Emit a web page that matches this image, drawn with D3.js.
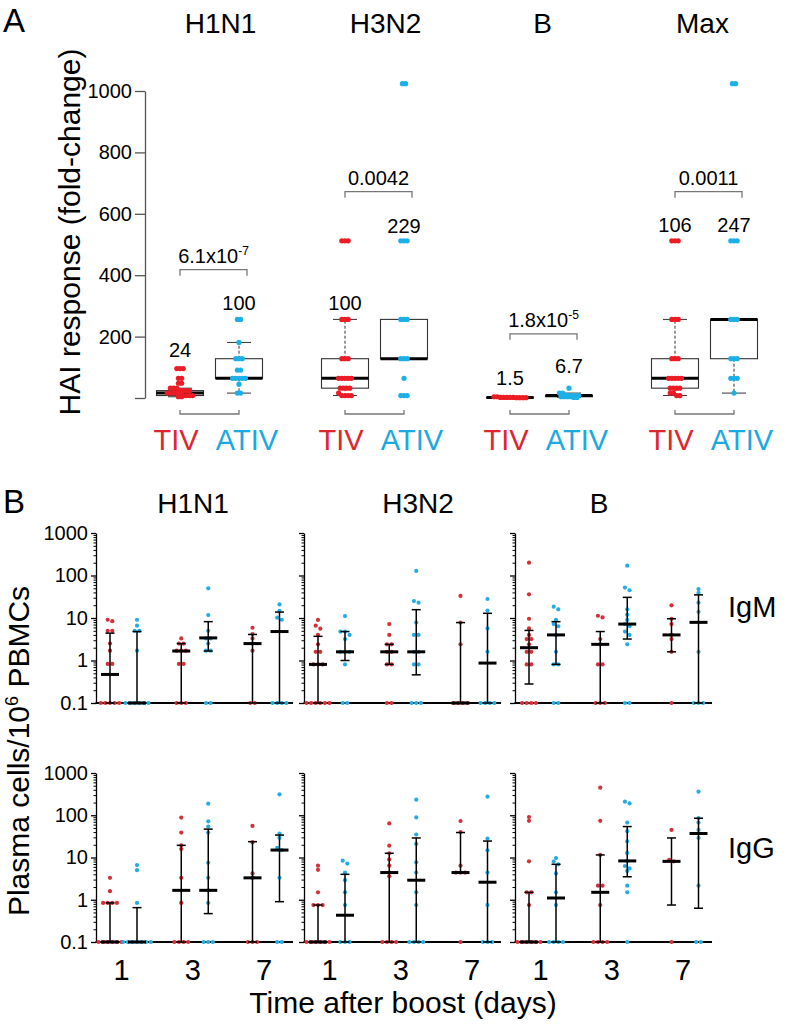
<!DOCTYPE html>
<html><head><meta charset="utf-8">
<script src="https://cdn.jsdelivr.net/npm/d3@7"></script>
<style>body{margin:0;background:#fff} svg text{font-family:"Liberation Sans",Arial,Helvetica,sans-serif;fill:#000}</style>
</head><body><svg id="c" width="789" height="1026"></svg>
<script>
// ================= DATA: Panel A (HAI fold-change) =================
const strainsA = ["H1N1","H3N2","B","Max"];
const vaccines = ["TIV","ATIV"];
const hai_H1N1_TIV  = [96,96,96,64,64,48,48,32,32,32,24,24,24,24,16,16,16,16,16,8,8,8,8,4,4];
const hai_H1N1_ATIV = [256,256,181,128,128,128,91,91,64,64,64,64,64,45,16,16];
const hai_H3N2_TIV  = [512,512,512,256,256,256,128,128,128,64,64,64,64,64,32,32,32,32,16,8,8,8,8];
const hai_H3N2_ATIV = [1024,1024,512,512,512,256,256,256,128,128,128,64,8,8,8];
const hai_B_TIV     = [4,4,2,2,2,2,2,1,1,1,1];
const hai_B_ATIV    = [32,16,16,8,8,8,8,8,4,4,4,4,2,2];
const hai_Max_TIV   = [512,512,512,256,256,256,128,128,128,64,64,64,64,64,32,32,32,32,16,16,8,8];
const hai_Max_ATIV  = [1024,1024,512,512,512,256,256,256,128,128,128,64,64,64,16];
// box statistics (order: H1N1 TIV, H1N1 ATIV, H3N2 TIV, H3N2 ATIV, B TIV, B ATIV, Max TIV, Max ATIV)
const boxQ1   = [8, 64, 32, 128, 1, 4, 32, 128];
const boxMed  = [16, 64, 64, 128, 2, 8, 64, 256];
const boxQ3   = [24, 128, 128, 256, 2, 8, 128, 256];
const whiskLo = [4, 16, 8, 128, 1, 2, 8, 16];
const whiskHi = [32, 181, 256, 256, 4, 16, 256, 256];
const gmLabels  = ["24","100","100","229","1.5","6.7","106","247"];
const gmLabelAt = [134, 287, 287, 538, 42, 82, 541, 541];       // baseline, in fold-change units
const pMain  = ["6.1x10","0.0042","1.8x10","0.0011"];
const pExp   = ["-7","","-5",""];
const pBracketAt = [418, 672, 209, 672];                          // in fold-change units
const yTicksA = [0,200,400,600,800,1000];

// ================= DATA: Panel B (plasma cells / 10^6 PBMCs) =================
const strainsB = ["H1N1","H3N2","B"];
const days = [1,3,7];
const isotypes = ["IgM","IgG"];
const yTicksB = [0.1,1,10,100,1000];
// values per day [day1, day3, day7]; stats per day [median, lower, upper]
const IgM_H1N1_TIV  = [[9.1,8.4,5,5,2.5,1.7,0.83,0.83,0.1,0.1,0.1,0.1,0.1],[3.3,2.5,2.5,1.7,1.7,1.7,0.83,0.83,0.1,0.1,0.1],[5.9,4.2,3.3,2.5,1.7,0.1,0.1]];
const IgM_H1N1_ATIV = [[9.1,6.6,5,5,1.7,0.1,0.1,0.1,0.1,0.1,0.1],[50,11.7,5,3.3,3.3,2.5,1.7,1.7,0.1,0.1],[20.9,14.8,10.2,9.1,0.1,0.1,0.1,0.1]];
const IgM_H1N1_TIV_stats  = [[0.47,0.1,4.4],[1.67,0.1,2.5],[2.5,0.1,4.1]];
const IgM_H1N1_ATIV_stats = [[0.1,0.1,4.8],[3.4,1.67,8.2],[4.8,0.1,13.8]];
const IgM_H3N2_TIV  = [[9,6.6,5.6,4,2.4,1.6,1.6,0.81,0.81,0.81,0.1,0.1,0.1,0.1,0.1,0.1],[7.2,4,2.4,2.4,1.6,1.6,0.81,0.81,0.1,0.1],[33,7.8,2.4,0.1,0.1,0.1,0.1]];
const IgM_H3N2_ATIV = [[11.1,4.8,4.8,4,3.2,1.6,1.6,1.6,0.81,0.1,0.1],[128,25,23,7.8,4,4,1.6,1.6,0.81,0.81,0.1,0.1,0.1],[28,15,5.7,1.6,0.1,0.1,0.1,0.1]];
const IgM_H3N2_TIV_stats  = [[0.81,0.1,3.7],[1.6,0.81,2.4],[0.1,0.1,7.8]];
const IgM_H3N2_ATIV_stats = [[1.6,1.0,4.8],[1.6,0.46,15.7],[0.87,0.1,12.9]];
const IgM_B_TIV  = [[200,36,9.6,5.7,4,3.2,3.2,2.4,1.6,1.6,0.81,0.81,0.1,0.1,0.1,0.1],[11.3,10.3,3.2,2.4,0.81,0.81,0.1,0.1,0.1],[19.9,9.6,7.2,4,3.2,1.6,0.1]];
const IgM_B_ATIV = [[18.5,16,9,7.2,6.4,4,1.6,0.81,0.81,0.1,0.1],[170,52,45,16,12,9,7.2,6.4,4.8,4,2.4,0.1,0.1],[48,39,23,14,1.6,0.1,0.1,0.1]];
const IgM_B_TIV_stats  = [[2.0,0.28,5.1],[2.4,0.1,4.8],[4.0,1.6,9.6]];
const IgM_B_ATIV_stats = [[4.0,0.81,8.2],[7.2,3.2,30.6],[7.9,0.1,35]];
const IgG_H1N1_TIV  = [[3.3,1.6,0.84,0.84,0.84,0.84,0.1,0.1,0.1,0.1,0.1,0.1],[88,39,19.4,15.9,3.3,0.84,0.1,0.1,0.1,0.1],[56,23,4.2,3.3,0.1,0.1,0.1]];
const IgG_H1N1_ATIV = [[6.6,5,0.84,0.1,0.1,0.1,0.1,0.1,0.1,0.1],[188,72,54,39,7.5,3.3,1.67,0.84,0.1,0.1,0.1],[313,37,29,17,15,3.3,0.1,0.1]];
const IgG_H1N1_TIV_stats  = [[0.1,0.1,0.84],[1.67,0.1,19.4],[3.3,0.1,23.7]];
const IgG_H1N1_ATIV_stats = [[0.1,0.1,0.65],[1.67,0.47,47],[15,0.9,34]];
const IgG_H3N2_TIV  = [[6.4,5.1,1.5,0.75,0.75,0.75,0.1,0.1,0.1,0.1,0.1,0.1],[64,19,12.6,9,6.4,4.4,3.6,0.1,0.1,0.1,0.1],[73,40,6.4,4.4,4.4,4.4,0.1]];
const IgG_H3N2_ATIV = [[8.4,7.2,4.4,2.9,1.5,0.75,0.1,0.1,0.1],[234,89,35,21,7.7,4.4,1.5,0.75,0.1,0.1,0.1,0.1],[275,28,14.8,4.4,0.75,0.1,0.1,0.1]];
const IgG_H3N2_TIV_stats  = [[0.1,0.1,0.75],[4.4,0.1,12.6],[4.4,4.4,39]];
const IgG_H3N2_ATIV_stats = [[0.43,0.1,4.0],[2.9,0.1,29],[2.6,0.1,24.5]];
const IgG_B_TIV  = [[91,74,8.1,1.5,1.5,0.75,0.1,0.1,0.1,0.1,0.1,0.1],[450,74,11.5,2.15,2.15,0.75,0.1,0.1,0.1,0.1],[45,8.8,8.1,0.1]];
const IgG_B_ATIV = [[9.7,8,6.9,4.2,1.5,0.75,0.1,0.1,0.1,0.1],[210,190,67,42,24,12.8,8.3,6.3,5.5,4.8,2.15,1.5,0.1],[362,86,67,45,29,2.15,0.1,0.1]];
const IgG_B_TIV_stats  = [[0.1,0.1,1.5],[1.5,0.1,11.5],[8.1,0.75,29]];
const IgG_B_ATIV_stats = [[1.1,0.1,6.9],[8.3,3.5,54],[37,0.63,85]];

// ================= DRAWING =================
const svg = d3.select("#c");
const RED_A = "#ec1c24", BLUE_A = "#1cb0e8", RED_B = "#d3303a", BLUE_B = "#25ade3";
const RED_T = "#e1252c", BLUE_T = "#1aa9e1";

function swarm(values, yScale, spacing, thr){
  const pts = values.map(v => ({v, y: yScale(v)})).sort((a,b) => a.y - b.y);
  const out = []; let cl = [];
  const flush = () => { cl.forEach((p,i) => { p.dx = (i - (cl.length-1)/2) * spacing; out.push(p); }); cl = []; };
  pts.forEach(p => { if (cl.length && p.y - cl[0].y > thr) flush(); cl.push(p); });
  flush();
  return out;
}

// ---------- Panel A ----------
svg.append("text").attr("x", 3).attr("y", 32).attr("font-size", 33).text("A");
const yA = d3.scaleLinear().domain([0,1000]).range([398,91]);
const xGroupA = d3.scalePoint().domain(strainsA).range([209.5,704.5]);
const xVacA = d3.scalePoint().domain(vaccines).range([-29.5,29.5]);
const haiData = [hai_H1N1_TIV,hai_H1N1_ATIV,hai_H3N2_TIV,hai_H3N2_ATIV,hai_B_TIV,hai_B_ATIV,hai_Max_TIV,hai_Max_ATIV];
const titleDxA = [11, 11, 3, -2];

const axA = svg.append("g").attr("transform","translate(145,0)")
  .call(d3.axisLeft(yA).tickValues(yTicksA).tickSize(10).tickSizeOuter(0).tickPadding(3)
    .tickFormat(d => d === 0 ? "" : d));
axA.selectAll("path,line").attr("stroke","#555").attr("stroke-width",1.3);
axA.selectAll("text").attr("font-size",20).attr("fill","#000");

svg.append("text").attr("transform","translate(80,232) rotate(-90)").attr("text-anchor","middle")
  .attr("font-size",30).text("HAI response (fold-change)");

const BW = 47;
strainsA.forEach((s, i) => {
  const gx = xGroupA(s);
  svg.append("text").attr("x", gx + titleDxA[i]).attr("y", 33).attr("text-anchor","middle")
    .attr("font-size",28).text(s);
  vaccines.forEach((v, j) => {
    const k = i*2 + j, cx = gx + xVacA(v);
    const g = svg.append("g");
    // whiskers
    if (whiskHi[k] > boxQ3[k]) {
      g.append("line").attr("x1",cx).attr("x2",cx).attr("y1",yA(boxQ3[k])).attr("y2",yA(whiskHi[k]))
        .attr("stroke","#333").attr("stroke-dasharray","3,2").attr("stroke-width",1);
      g.append("line").attr("x1",cx-12).attr("x2",cx+12).attr("y1",yA(whiskHi[k])).attr("y2",yA(whiskHi[k]))
        .attr("stroke","#333").attr("stroke-width",1);
    }
    if (whiskLo[k] < boxQ1[k]) {
      g.append("line").attr("x1",cx).attr("x2",cx).attr("y1",yA(boxQ1[k])).attr("y2",yA(whiskLo[k]))
        .attr("stroke","#333").attr("stroke-dasharray","3,2").attr("stroke-width",1);
      g.append("line").attr("x1",cx-12).attr("x2",cx+12).attr("y1",yA(whiskLo[k])).attr("y2",yA(whiskLo[k]))
        .attr("stroke","#333").attr("stroke-width",1);
    }
    g.append("rect").attr("x",cx-BW/2).attr("y",yA(boxQ3[k])).attr("width",BW)
      .attr("height",Math.max(0.5, yA(boxQ1[k]) - yA(boxQ3[k])))
      .attr("fill","none").attr("stroke","#333").attr("stroke-width",1.1);
    g.append("line").attr("x1",cx-BW/2).attr("x2",cx+BW/2).attr("y1",yA(boxMed[k])).attr("y2",yA(boxMed[k]))
      .attr("stroke","#000").attr("stroke-width",3);
    // points
    const col = j === 0 ? RED_A : BLUE_A;
    g.selectAll("circle").data(swarm(haiData[k], yA, 3.2, 2.5)).join("circle")
      .attr("cx", d => cx + d.dx).attr("cy", d => d.y).attr("r", 2.6).attr("fill", col);
    // geometric mean label
    svg.append("text").attr("x", cx).attr("y", yA(gmLabelAt[k])).attr("text-anchor","middle")
      .attr("font-size",20).text(gmLabels[k]);
    // vaccine label
    svg.append("text").attr("x", cx + (j===0 ? -4 : 8)).attr("y", 450).attr("text-anchor","middle")
      .attr("font-size",29).attr("fill", j===0 ? RED_T : BLUE_T).style("fill", j===0 ? RED_T : BLUE_T).text(v);
  });
  const x1 = gx + xVacA("TIV"), x2 = gx + xVacA("ATIV");
  // p-value bracket
  const by = yA(pBracketAt[i]);
  svg.append("path").attr("d", `M${x1},${by+6}V${by}H${x2+8}V${by+6}`)
    .attr("fill","none").attr("stroke","#777").attr("stroke-width",1.3);
  const pt = svg.append("text").attr("x",(x1+x2+8)/2).attr("y",by-7).attr("text-anchor","middle").attr("font-size",20);
  pt.append("tspan").text(pMain[i]);
  if (pExp[i]) pt.append("tspan").attr("dy",-8).attr("font-size",12).text(pExp[i]);
  // bottom bracket
  svg.append("path").attr("d", `M${x1},${410}V${414}H${x2}V${410}`)
    .attr("fill","none").attr("stroke","#777").attr("stroke-width",1.3);
});

// ---------- Panel B ----------
svg.append("text").attr("x", 3).attr("y", 513).attr("font-size", 33).text("B");
const panelX0 = [96, 304, 515];
const PW = 197;
const rowsB = [{y0:703, y1:533}, {y0:942, y1:773}];
const titleXB = [193, 418, 599];
const dataB = {
  IgM: [[IgM_H1N1_TIV,IgM_H1N1_ATIV,IgM_H1N1_TIV_stats,IgM_H1N1_ATIV_stats],
        [IgM_H3N2_TIV,IgM_H3N2_ATIV,IgM_H3N2_TIV_stats,IgM_H3N2_ATIV_stats],
        [IgM_B_TIV,IgM_B_ATIV,IgM_B_TIV_stats,IgM_B_ATIV_stats]],
  IgG: [[IgG_H1N1_TIV,IgG_H1N1_ATIV,IgG_H1N1_TIV_stats,IgG_H1N1_ATIV_stats],
        [IgG_H3N2_TIV,IgG_H3N2_ATIV,IgG_H3N2_TIV_stats,IgG_H3N2_ATIV_stats],
        [IgG_B_TIV,IgG_B_ATIV,IgG_B_TIV_stats,IgG_B_ATIV_stats]]
};
const minorB = [];
[0.1,1,10,100].forEach(d => { for (let k=2;k<=9;k++) minorB.push(d*k); });

strainsB.forEach((s, si) => {
  svg.append("text").attr("x", titleXB[si]).attr("y", 513).attr("text-anchor","middle").attr("font-size",28).text(s);
});

isotypes.forEach((iso, ri) => {
  const R = rowsB[ri];
  const y = d3.scaleLog().domain([0.1,1000]).range([R.y0, R.y1]);
  strainsB.forEach((s, si) => {
    const x0 = panelX0[si];
    const xDay = d3.scalePoint().domain(days).range([x0+27.5, x0+170]);
    const xVac = d3.scalePoint().domain(vaccines).range([-13.5, 13.5]);
    // axes
    const ax = svg.append("g").attr("transform",`translate(${x0},0)`)
      .call(d3.axisLeft(y).tickValues(yTicksB).tickSize(5).tickSizeOuter(0).tickPadding(3)
        .tickFormat(d => si === 0 ? String(d) : ""));
    ax.selectAll("path,line").attr("stroke","#000").attr("stroke-width",1.3);
    ax.selectAll("text").attr("font-size",20).attr("fill","#000");
    const axm = svg.append("g").attr("transform",`translate(${x0},0)`)
      .call(d3.axisLeft(y).tickValues(minorB).tickSize(2.5).tickFormat(""));
    axm.select("path").remove();
    axm.selectAll("line").attr("stroke","#000").attr("stroke-width",1);
    svg.append("line").attr("x1",x0-0.5).attr("x2",x0+PW).attr("y1",R.y0).attr("y2",R.y0)
      .attr("stroke","#000").attr("stroke-width",2);
    const [tivVals, ativVals, tivStats, ativStats] = dataB[iso][si];
    days.forEach((d, di) => {
      [[tivVals, tivStats, RED_B, "TIV"], [ativVals, ativStats, BLUE_B, "ATIV"]].forEach(([vals, st, col, v]) => {
        const cx = xDay(d) + xVac(v);
        svg.append("g").selectAll("circle").data(swarm(vals[di], y, 4.6, 3.5)).join("circle")
          .attr("cx", p => cx + p.dx).attr("cy", p => p.y).attr("r", 2.1).attr("fill", col);
        const [med, lo, hi] = st[di];
        const g = svg.append("g").attr("stroke","#000");
        g.append("line").attr("x1",cx).attr("x2",cx).attr("y1",y(lo)).attr("y2",y(hi)).attr("stroke-width",1.5);
        g.append("line").attr("x1",cx-4.5).attr("x2",cx+4.5).attr("y1",y(hi)).attr("y2",y(hi)).attr("stroke-width",1.5);
        g.append("line").attr("x1",cx-4.5).attr("x2",cx+4.5).attr("y1",y(lo)).attr("y2",y(lo)).attr("stroke-width",1.5);
        g.append("line").attr("x1",cx-9).attr("x2",cx+9).attr("y1",y(med)).attr("y2",y(med)).attr("stroke-width",3);
      });
      if (ri === 1) {
        svg.append("text").attr("x", xDay(d) - 2).attr("y", 980).attr("text-anchor","middle")
          .attr("font-size",29).text(d);
      }
    });
  });
  svg.append("text").attr("x",728).attr("y", ri === 0 ? 617 : 858).attr("font-size",29).text(iso);
});

const yl = svg.append("text").attr("transform","translate(29,751) rotate(-90)").attr("text-anchor","middle").attr("font-size",30);
yl.append("tspan").text("Plasma cells/10");
yl.append("tspan").attr("dy",-11).attr("font-size",18).text("6");
yl.append("tspan").attr("dy",11).text(" PBMCs");
svg.append("text").attr("x",403).attr("y",1013).attr("text-anchor","middle").attr("font-size",30).text("Time after boost (days)");
</script></body></html>
